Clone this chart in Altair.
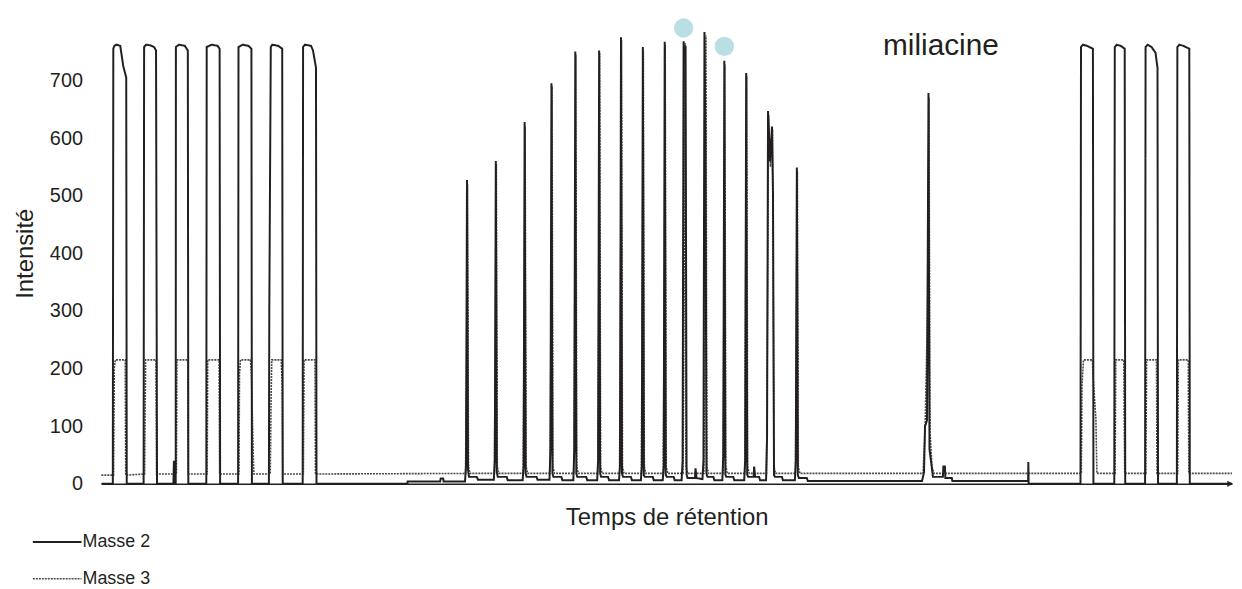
import altair as alt
import pandas as pd

# Masse 2 trace (retention time in arbitrary units, intensity)
m2_t = [102, 113.5, 114, 115, 117, 121, 124, 127, 127.5,
        144.5, 145, 147, 151, 155, 157, 158,
        174.5, 175, 175.5,
        176.8, 177, 180, 186, 189, 189.5,
        207.6, 208, 213, 219, 221, 221.5,
        239.6, 240, 244, 250, 253, 253.5,
        270.6, 271, 272.5, 274, 280, 284, 284.5,
        304.6, 305, 307, 313, 315, 318, 318.5,
        410, 410.2, 443, 443.5, 446, 446.5,
        468, 469, 470, 471, 472, 480, 481,
        497, 498, 499, 500, 501, 510, 511,
        526, 527, 528, 529, 530, 540, 541,
        553, 554, 555, 556, 557, 565, 566,
        577, 578, 579, 580, 581, 590, 591,
        601, 602, 603, 604, 605, 612, 613,
        623, 624, 625, 626, 627, 635, 636,
        645, 646, 647, 648, 649, 657, 658,
        667, 668, 669, 670, 671, 678, 679,
        686, 687, 688, 689, 690, 691, 692, 699.5, 700, 701, 707,
        708, 709, 710, 711, 712, 718, 719,
        727, 728, 729, 730, 731, 738, 739,
        749, 750, 751, 752, 753, 758.5, 759, 760, 764, 765,
        771, 772, 773, 775, 777, 778, 779, 780, 787, 788,
        800, 801, 802, 803, 804, 812, 813,
        928, 930, 931, 933, 934.5, 935.5, 937, 939, 949, 949.5, 951, 951.5, 958, 958.5,
        1034.8, 1035, 1035.3,
        1087.5, 1088, 1090, 1094, 1100, 1100.5,
        1121.5, 1122, 1124, 1128, 1132, 1132.5,
        1152.5, 1153, 1155, 1159, 1163, 1165, 1165.5,
        1184.5, 1185, 1187, 1191, 1197, 1197.5,
        1240]
m2_v = [0, 0, 755, 760, 762, 760, 725, 705, 0,
        0, 758, 762, 761, 758, 752, 0,
        0, 40, 0,
        0, 758, 762, 760, 752, 0,
        0, 758, 762, 760, 755, 0,
        0, 758, 762, 760, 755, 0,
        0, 300, 758, 762, 760, 755, 0,
        0, 758, 762, 760, 752, 722, 0,
        0, 4, 4, 9, 9, 4,
        4, 30, 527, 25, 12, 12, 7,
        7, 40, 560, 20, 12, 12, 6,
        6, 30, 628, 18, 12, 12, 7,
        7, 60, 695, 18, 12, 12, 6,
        6, 60, 750, 18, 12, 12, 6,
        6, 40, 752, 18, 12, 12, 6,
        6, 30, 775, 18, 12, 12, 6,
        6, 30, 758, 15, 12, 12, 6,
        6, 30, 767, 16, 12, 12, 6,
        6, 40, 768, 740, 760, 16, 10, 10, 27, 10, 8,
        40, 784, 600, 18, 12, 12, 6,
        6, 50, 734, 16, 12, 12, 6,
        6, 40, 713, 16, 12, 12, 30, 12, 12, 6,
        6, 80, 647, 560, 620, 500, 15, 12, 12, 6,
        6, 40, 549, 15, 10, 10, 5,
        5, 20, 100, 110, 678, 60, 40, 12, 12, 30, 30, 10, 10, 5,
        5, 38, 0,
        0, 758, 762, 760, 755, 0,
        0, 758, 762, 760, 755, 0,
        0, 758, 762, 758, 748, 722, 0,
        0, 758, 762, 760, 755, 0,
        0]

# Masse 3 trace
m3_t = [102, 114.3, 115, 116, 126, 126.5,
        145.5, 146.5, 157, 157.5,
        177.5, 178, 189, 189.3,
        208.5, 209, 220.5, 221,
        240.5, 241, 242, 252, 253, 255, 255.5,
        272, 272.8, 273.5, 283, 284, 284.5,
        305.3, 306, 317, 317.5,
        468.5, 469.5, 470.5, 471.5, 473,
        497.5, 498.5, 499.5, 500.5, 502,
        526.5, 527.5, 528.5, 529.5, 531,
        553.5, 554.5, 555.6, 556.5, 558,
        577.5, 578.5, 579.5, 580.5, 582,
        601.5, 602.5, 603.5, 604.5, 606,
        623.5, 624.5, 625.5, 626.5, 628,
        645.5, 646.5, 647.5, 648.5, 650,
        667.5, 668.5, 669.5, 670.5, 672,
        687.5, 688.5, 689.5, 690.5, 692,
        708.5, 709.5, 710.5, 711.5, 713,
        727.5, 728.5, 729.5, 730.5, 732,
        749.5, 750.5, 751.5, 752.5, 754,
        771.5, 772.5, 773.5, 775.5, 777.5, 779, 780.5,
        800.5, 801.5, 802.5, 803.5, 805,
        929, 931, 933.5, 935, 936, 938, 940,
        1088.3, 1089, 1090.5, 1099.5, 1100, 1103, 1104,
        1122.3, 1123, 1131, 1132,
        1153.3, 1154, 1164, 1164.5,
        1185.3, 1186, 1196, 1196.5,
        1240]
m3_v = [15, 15, 200, 215, 215, 15,
        17, 215, 215, 17,
        17, 215, 215, 17,
        17, 215, 215, 17,
        17, 190, 215, 215, 190, 40, 17,
        17, 150, 215, 215, 170, 17,
        17, 215, 215, 17,
        18, 200, 520, 30, 18,
        18, 250, 555, 30, 18,
        18, 280, 620, 30, 18,
        18, 300, 690, 30, 18,
        18, 350, 745, 30, 18,
        18, 300, 748, 30, 18,
        18, 300, 770, 30, 18,
        18, 400, 752, 30, 18,
        18, 300, 762, 30, 18,
        18, 300, 765, 30, 18,
        18, 450, 778, 30, 18,
        18, 300, 728, 30, 18,
        18, 400, 708, 30, 18,
        18, 300, 640, 550, 615, 30, 18,
        18, 300, 543, 30, 18,
        18, 90, 300, 670, 90, 30, 18,
        18, 170, 215, 215, 190, 112, 18,
        18, 215, 215, 18,
        18, 215, 215, 18,
        18, 215, 215, 18,
        18]

marker_t = [688, 729]
marker_v = [791, 759]

label_t = [947]
label_v = [759]
label_text = ["miliacine"]

y_ticks = [0, 100, 200, 300, 400, 500, 600, 700]
series_names = ["Masse 2", "Masse 3"]
series_colors = ["#231f20", "#4a4a4a"]

FONT = "Liberation Sans"
INK = "#231f20"

df = pd.DataFrame({
    "t": m3_t + m2_t,
    "v": m3_v + m2_v,
    "serie": ["Masse 3"] * len(m3_t) + ["Masse 2"] * len(m2_t),
    "i": list(range(len(m3_t))) + list(range(len(m2_t))),
})

xscale = alt.Scale(domain=[102, 1240], nice=False, zero=False)
yscale = alt.Scale(domain=[0, 800], nice=False)

x_axis = alt.Axis(title="Temps de rétention", labels=False, ticks=False, grid=False,
                  domain=True, domainColor=INK, domainWidth=1.5,
                  titleFontSize=24, titleFont=FONT, titleFontWeight="normal",
                  titleColor=INK, titlePadding=22)
y_axis = alt.Axis(title="Intensité", values=y_ticks, domain=False, ticks=False, grid=False,
                  labelFontSize=20, labelFont=FONT, labelColor=INK, labelPadding=19,
                  titleFontSize=24, titleFont=FONT, titleFontWeight="normal",
                  titleColor=INK, titlePadding=12)

legend = alt.Legend(orient="none", legendX=-70, legendY=497, title=None,
                    symbolType="stroke", symbolSize=2400, labelFontSize=18,
                    labelFont=FONT, labelColor=INK, labelOffset=0,
                    symbolStrokeWidth=2)

lines = alt.Chart(df).mark_line(interpolate="linear").encode(
    x=alt.X("t:Q", scale=xscale, axis=x_axis),
    y=alt.Y("v:Q", scale=yscale, axis=y_axis),
    color=alt.Color("serie:N", scale=alt.Scale(domain=series_names, range=series_colors), legend=legend),
    strokeDash=alt.StrokeDash("serie:N", scale=alt.Scale(domain=series_names, range=[[1, 0], [2, 1]]), legend=legend),
    strokeWidth=alt.StrokeWidth("serie:N", scale=alt.Scale(domain=series_names, range=[2, 1.6]), legend=legend),
    order=alt.Order("i:Q"),
)

markers = alt.Chart(pd.DataFrame({"t": marker_t, "v": marker_v})).mark_point(
    shape="circle", filled=True, size=380, color="#b9dfe4", opacity=1
).encode(x=alt.X("t:Q", scale=xscale), y=alt.Y("v:Q", scale=yscale))

label = alt.Chart(pd.DataFrame({"t": label_t, "v": label_v, "txt": label_text})).mark_text(
    fontSize=30, font=FONT, color=INK, align="center", baseline="middle"
).encode(x=alt.X("t:Q", scale=xscale), y=alt.Y("v:Q", scale=yscale), text="txt:N")

arrow = alt.Chart(pd.DataFrame({"t": [1238], "v": [0]})).mark_point(
    shape="triangle-right", filled=True, size=40, color=INK, opacity=1
).encode(x=alt.X("t:Q", scale=xscale), y=alt.Y("v:Q", scale=yscale))

chart = alt.layer(lines, markers, label, arrow).properties(
    width=1138, height=464,
    padding={"left": 94, "top": 13, "right": 2, "bottom": 104},
    autosize=alt.AutoSizeParams(type="none"),
    background="white",
).configure_view(stroke=None)

chart.save("out.html", embed_options={"renderer": "svg", "actions": False})
